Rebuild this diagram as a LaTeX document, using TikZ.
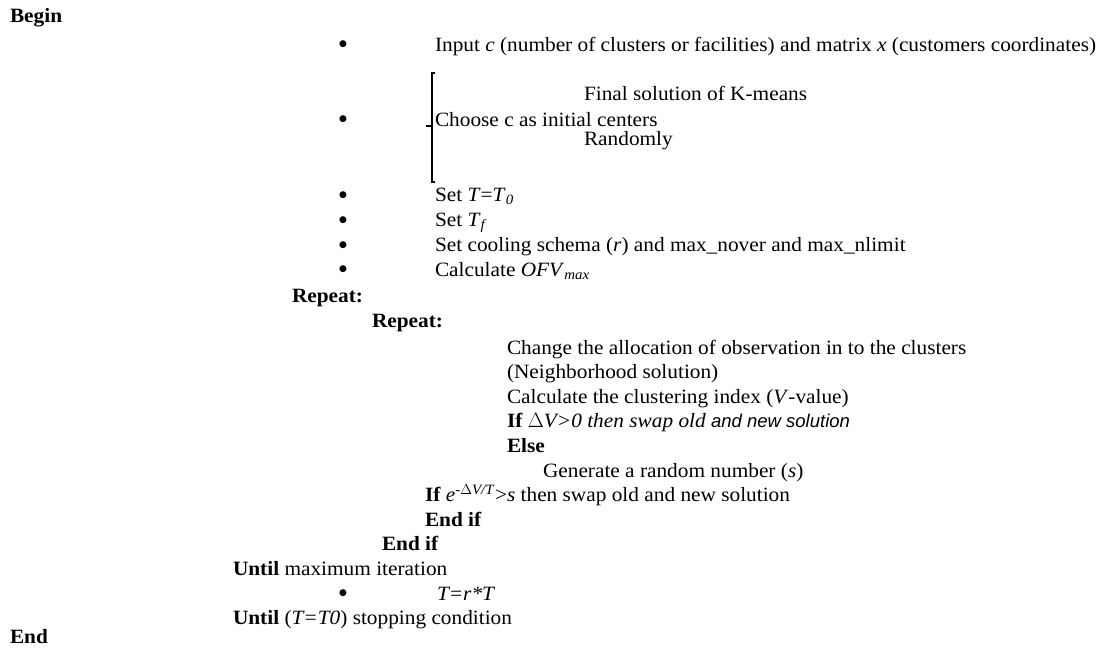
\documentclass[tikz,border=0pt]{standalone}
\usepackage{fontspec}
\usetikzlibrary{calc}
\setmainfont[FakeStretch=1.05]{Liberation Serif}
\newfontfamily\sansf{Liberation Sans}
\newfontfamily\dejavu{DejaVu Sans}
\begin{document}
\begin{tikzpicture}[x=1pt,y=-1pt,
  every node/.style={inner sep=0pt, outer sep=0pt, anchor=base west, font=\fontsize{20.3}{24}\selectfont},
  bul/.style={anchor=base, font=\dejavu\fontsize{9}{10}\selectfont, yshift=4.5pt},
  brk/.style={line width=1.4pt}]
\useasboundingbox (0,0) rectangle (1104,651);
\fill[white] (0,0) rectangle (1104,651);
% Begin
\node (begin) at (10,22) {\textbf{Begin}};
% input
\node[bul] (b1) at (343,51) {●};
\node (input) at (435,51) {Input \textit{c} (number of clusters or facilities) and matrix \textit{x} (customers coordinates)};
% bracket group
\coordinate (brt) at (432,73);
\coordinate (brb) at (432,182);
\coordinate (brm) at (432,126);
\coordinate (brtick) at (426,126);
\draw[brk] ($(brt)+(3,0)$) -- (brt) -- (brb) -- ($(brb)+(3,0)$);
\draw[brk] (brm) -- (brtick);
\node (final) at (584,100) {Final solution of K-means};
\node[bul] (b2) at (343,126) {●};
\node (choose) at (435,126) {Choose c as initial centers};
\node (random) at (584,145) {Randomly};
% settings
\node[bul] (b3) at (343,201.5) {●};
\node (sett0) at (435,201.5) {Set \textit{T}=\textit{T}\textsubscript{\textit{0}}};
\node[bul] (b4) at (343,226.5) {●};
\node (settf) at (435,226.5) {Set \textit{T}\textsubscript{\textit{f}}};
\node[bul] (b5) at (343,251.5) {●};
\node (cool) at (435,251.5) {Set cooling schema (\textit{r}) and max\_nover and max\_nlimit};
\node[bul] (b6) at (343,276) {●};
\node (ofv) at (435,276) {Calculate \textit{OFV}\textsubscript{\textit{max}}};
% loops
\node (rep1) at (292,302) {\textbf{Repeat:}};
\node (rep2) at (372,327) {\textbf{Repeat:}};
\node (change) at (507,354) {Change the allocation of observation in to the clusters};
\node (neigh) at (507,378.6) {(Neighborhood solution)};
\node (calc) at (507,403.2) {Calculate the clustering index (\textit{V}-value)};
\node (if1) at (507,427.8) {\textbf{If} \textit{$\Delta$V>0 then swap old} {\sansf\itshape\fontsize{18.5}{24}\selectfont and new solution}};
\node (else) at (507,452.4) {\textbf{Else}};
\node (gen) at (543,477) {Generate a random number (\textit{s})};
\node (if2) at (425,501.6) {\textbf{If} \textit{e}\textsuperscript{\textit{-$\Delta$V/T}}>\textit{s} then swap old and new solution};
\node (endif1) at (425,526.2) {\textbf{End if}};
\node (endif2) at (382,550.8) {\textbf{End if}};
\node (until1) at (233,575.4) {\textbf{Until} maximum iteration};
\node[bul] (b7) at (343,600) {●};
\node (trt) at (437,600) {\textit{T=r*T}};
\node (until2) at (233,624.6) {\textbf{Until} (\textit{T=T0}) stopping condition};
\node (end) at (10,643) {\textbf{End}};
\end{tikzpicture}
\end{document}
